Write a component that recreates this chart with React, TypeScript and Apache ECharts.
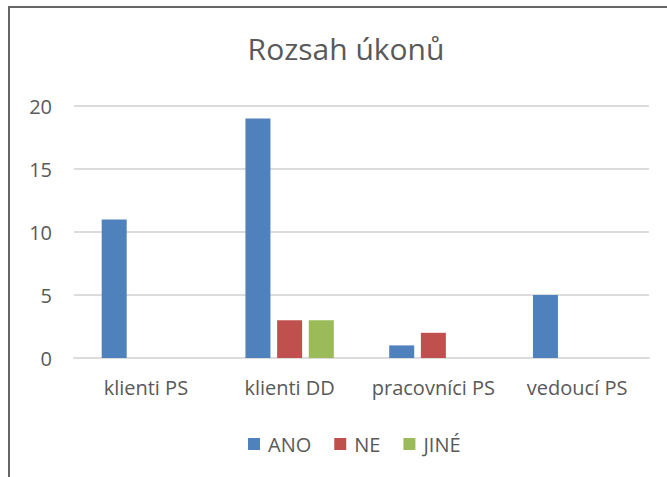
import React, { useEffect, useRef } from "react";
import * as echarts from "echarts";

const categories = ["klienti PS", "klienti DD", "pracovníci PS", "vedoucí PS"];
const seriesNames = ["ANO", "NE", "JINÉ"];
const anoValues = [11, 19, 1, 5];
const neValues = [0, 3, 2, 0];
const jineValues = [0, 3, 0, 0];
const colors = ["#4F81BD", "#C0504D", "#9BBB59"];
const FONT = "'Open Sans', sans-serif";

export default function App() {
  const ref = useRef<HTMLDivElement>(null);
  useEffect(() => {
    if (!ref.current) return;
    const chart = echarts.init(ref.current, null, { renderer: "svg" });
    const values = [anoValues, neValues, jineValues];
    chart.setOption({
      animation: false,
      backgroundColor: "#ffffff",
      title: {
        text: "Rozsah úkonů",
        left: 341,
        top: 28,
        textAlign: "center",
        textStyle: { fontFamily: FONT, fontSize: 30, fontWeight: "normal", color: "#595959" },
      },
      legend: {
        data: seriesNames,
        left: 243,
        top: 429,
        icon: "rect",
        itemWidth: 12,
        itemHeight: 12,
        itemGap: 23,
        textStyle: { fontFamily: FONT, fontSize: 20, color: "#595959", padding: [0, 0, 0, 3] },
      },
      grid: { left: 74, right: 18, top: 106, bottom: 119, containLabel: false },
      xAxis: {
        type: "category",
        data: categories,
        axisLine: { show: true, lineStyle: { color: "#dcdcdc", width: 2 } },
        axisTick: { show: false },
        axisLabel: { interval: 0, fontFamily: FONT, fontSize: 20, color: "#595959", margin: 19 },
      },
      yAxis: {
        type: "value",
        min: 0,
        max: 20,
        interval: 5,
        axisLine: { show: false },
        axisTick: { show: false },
        axisLabel: { fontFamily: FONT, fontSize: 20, color: "#595959", margin: 22 },
        splitLine: { lineStyle: { color: "#dcdcdc", width: 2 } },
      },
      series: seriesNames.map((name, i) => ({
        name,
        type: "bar",
        data: values[i],
        barWidth: 25,
        barGap: "26.7%",
        itemStyle: { color: colors[i] },
      })),
      graphic: [
        {
          type: "rect",
          shape: { x: 9, y: 7, width: 720, height: 520 },
          style: { fill: "none", stroke: "#666666", lineWidth: 2 },
          silent: true,
        },
      ],
    });
    return () => chart.dispose();
  }, []);
  return (
    <div
      ref={ref}
      style={{ position: "absolute", left: 0, top: 0, width: 667, height: 477 }}
    />
  );
}
